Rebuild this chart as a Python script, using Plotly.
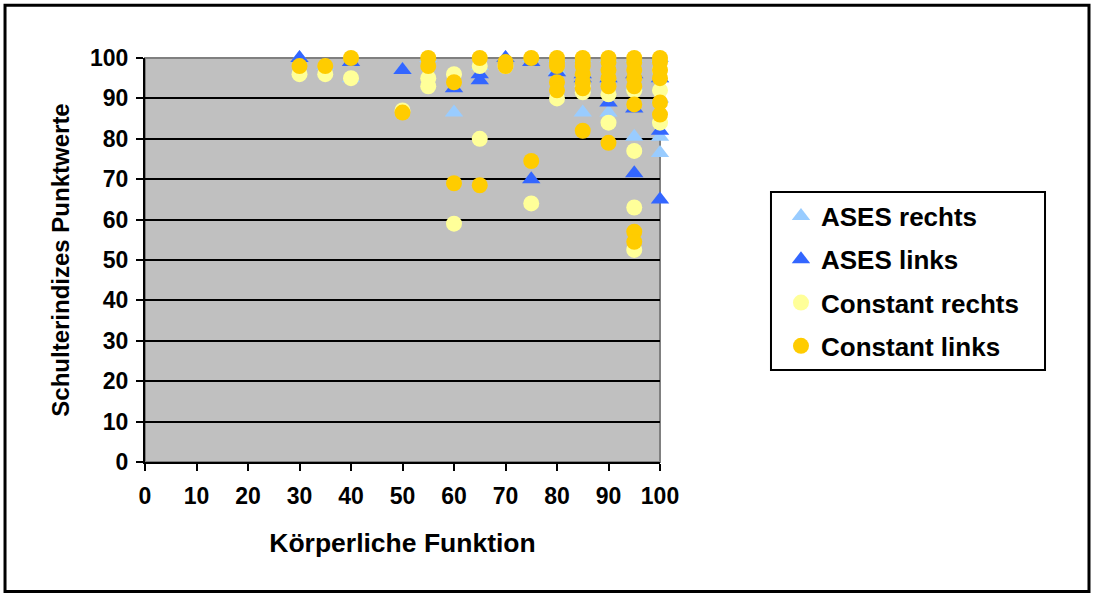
import plotly.graph_objects as go

# ---- data ----
ases_rechts_x = [30, 35, 40, 50, 55, 60, 65, 70, 75, 80, 80, 85, 85, 85, 90, 90, 90, 95, 95, 95, 100, 100, 100, 100, 100]
ases_rechts_y = [100, 98, 95, 97, 100, 86.5, 98, 100, 100, 100, 97, 100, 95, 86.5, 100, 95, 86.5, 100, 93, 80.5, 100, 95, 90, 80.5, 76.5]

ases_links_x = [30, 40, 50, 60, 65, 65, 70, 75, 75, 80, 85, 85, 90, 90, 95, 95, 95, 100, 100, 100]
ases_links_y = [100, 99, 97, 92.5, 96, 94.5, 100, 99, 70, 96.5, 96, 95, 95, 89, 96, 87.5, 71.5, 95, 82, 65]

const_rechts_x = [30, 35, 40, 50, 55, 55, 60, 60, 65, 65, 70, 75, 80, 85, 85, 90, 90, 95, 95, 95, 95, 100, 100, 100]
const_rechts_y = [96, 96, 95, 87, 95, 93, 96, 59, 98, 80, 98, 64, 90, 93, 91.5, 91, 84, 92, 77, 63, 52.5, 97, 92, 84]

const_links_x = [30, 35, 40, 50, 55, 55, 60, 60, 65, 65, 70, 70, 75, 75,
                 80, 80, 80, 80, 80, 85, 85, 85, 85, 85, 85, 85,
                 90, 90, 90, 90, 90, 90, 95, 95, 95, 95, 95, 95, 95, 95,
                 100, 100, 100, 100, 100, 100]
const_links_y = [98, 98, 100, 86.5, 100, 98, 94, 69, 100, 68.5, 99, 98, 100, 74.5,
                 100, 99, 98, 94, 92, 100, 99, 98, 96, 94, 92.5, 82,
                 100, 99, 97, 95, 93, 79, 100, 99, 97, 95, 93, 88.5, 57, 54.5,
                 100, 99, 97, 95, 89, 86]

x_ticks = [0, 10, 20, 30, 40, 50, 60, 70, 80, 90, 100]
y_ticks = [0, 10, 20, 30, 40, 50, 60, 70, 80, 90, 100]

FONT = "Liberation Sans, Arial, sans-serif"

fig = go.Figure()
series = [
    ("ASES rechts", ases_rechts_x, ases_rechts_y, "triangle-up", "#99CCFF", 16),
    ("ASES links", ases_links_x, ases_links_y, "triangle-up", "#3366FF", 16),
    ("Constant rechts", const_rechts_x, const_rechts_y, "circle", "#FFFF99", 16),
    ("Constant links", const_links_x, const_links_y, "circle", "#FFCC00", 16),
]
for name, xs, ys, sym, col, sz in series:
    fig.add_trace(go.Scatter(
        x=xs, y=ys, mode="markers", name=name, legendgroup=name,
        marker=dict(symbol=sym, color=col, size=sz, line=dict(width=0)),
        cliponaxis=False,
    ))

fig.update_layout(
    width=1093, height=594,
    margin=dict(l=145, r=433, t=58, b=132),
    paper_bgcolor="white",
    plot_bgcolor="#C0C0C0",
    font=dict(family=FONT, color="black", size=23, weight="bold"),
    showlegend=True,
    legend=dict(
        x=1.2155, xanchor="left", y=0.667, yanchor="top",
        bgcolor="rgba(0,0,0,0)", borderwidth=0,
        font=dict(family=FONT, size=26, color="black", weight="bold"),
        tracegroupgap=6.5, indentation=10,
    ),
    xaxis=dict(
        range=[0, 100], tickmode="array", tickvals=x_ticks,
        ticks="outside", ticklen=7, tickwidth=2, tickcolor="black",
        showline=True, linecolor="black", linewidth=2,
        showgrid=False, zeroline=False, ticklabelstandoff=5,
        tickfont=dict(family=FONT, size=23, weight="bold"),
        title=dict(text="Körperliche Funktion", standoff=26,
                   font=dict(family=FONT, size=26.5, weight="bold")),
    ),
    yaxis=dict(
        range=[0, 100], tickmode="array", tickvals=y_ticks,
        ticks="outside", ticklen=7, tickwidth=2, tickcolor="black",
        showline=True, linecolor="black", linewidth=2,
        showgrid=True, gridcolor="black", gridwidth=2, zeroline=False,
        ticklabelstandoff=3,
        tickfont=dict(family=FONT, size=23, weight="bold"),
        title=dict(text="Schulterindizes Punktwerte", standoff=14,
                   font=dict(family=FONT, size=24, weight="bold")),
    ),
    shapes=[
        dict(type="rect", xref="paper", yref="paper", x0=0, x1=1, y0=0, y1=1,
             line=dict(color="#808080", width=2), layer="below"),
        dict(type="rect", xref="paper", yref="paper",
             x0=-0.2718, x1=1.833, y0=-0.3205, y1=1.1305,
             line=dict(color="black", width=3), layer="below"),
        dict(type="rect", xref="paper", yref="paper",
             x0=1.2155, x1=1.7476, y0=0.2277, y1=0.6683,
             line=dict(color="black", width=2), layer="below"),
    ],
)

fig.write_html("out.html")
